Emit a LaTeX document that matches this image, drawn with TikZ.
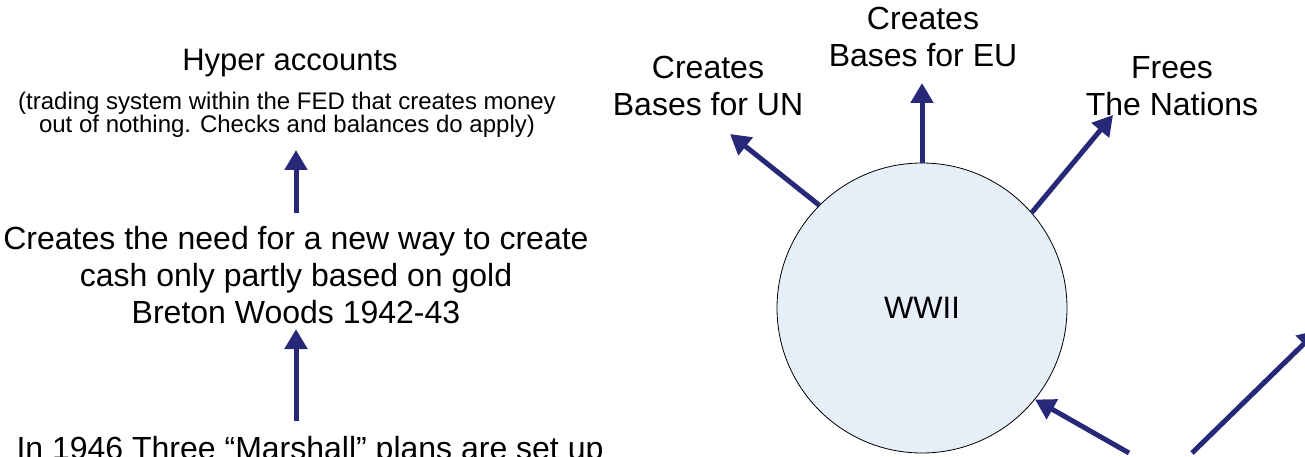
\documentclass[tikz,border=0pt]{standalone}
\usepackage{fontspec}
\setmainfont{Liberation Sans}
\usetikzlibrary{arrows.meta}
\definecolor{navy}{RGB}{40,40,120}
\definecolor{circfill}{RGB}{230,238,248}
\tikzset{
  arr/.style={draw=navy, line width=5pt, -{Triangle[width=22pt,length=20pt]}},
  lbl/.style={align=center, inner sep=0pt, font=\fontsize{32}{37}\selectfont},
  small/.style={align=center, inner sep=0pt, font=\fontsize{24}{23}\selectfont},
}
\begin{document}
\begin{tikzpicture}[x=1pt,y=-1pt]
\useasboundingbox (0,0) rectangle (1305,457);
% left chain
\node[lbl, font=\fontsize{31}{30}\selectfont] (hyper) at (290,63) {Hyper accounts};
\node[small] (hypersub) at (287,115) {(trading system within the FED that creates money\\out of nothing. Checks and balances do apply)};
\node[lbl] (need) at (296,275) {Creates the need for a new way to create\\cash only partly based on gold\\Breton Woods 1942-43};
\node[lbl, anchor=base] (marshall) at (310,459) {In 1946 Three ``Marshall'' plans are set up};
\coordinate (a1s) at (296,213);
\coordinate (a1e) at (296,150);
\coordinate (a2s) at (296,421);
\coordinate (a2e) at (296,329);
\draw[arr] (a1s) -- (a1e);
\draw[arr] (a2s) -- (a2e);
% right
\node[circle, draw=black, line width=0.8pt, fill=circfill, minimum size=290pt, inner sep=0pt,
      font=\fontsize{31}{30}\selectfont] (w) at (922,308) {WWII};
\node[lbl] (un) at (708,86) {Creates\\Bases for UN};
\node[lbl] (eu) at (923,37) {Creates\\Bases for EU};
\node[lbl] (fr) at (1172,86) {Frees\\The Nations};
\coordinate (unE) at (730,134);
\coordinate (euE) at (922,83);
\coordinate (frE) at (1113,115);
\coordinate (lowS) at (1129,453);
\coordinate (lowS2) at (1192,453);
\coordinate (offE) at (1318,330);
\draw[arr] (w.135) -- (unE);
\draw[arr] (w.90) -- (euE);
\draw[arr] (w.41) -- (frE);
\draw[arr] (lowS) -- (w.-39);
\draw[arr] (lowS2) -- (offE);
\end{tikzpicture}
\end{document}
